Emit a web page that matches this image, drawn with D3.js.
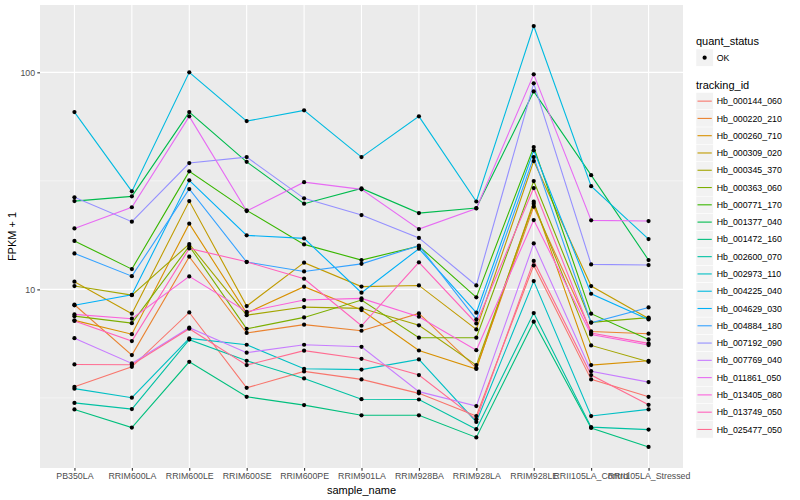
<!DOCTYPE html>
<html>
<head>
<meta charset="utf-8">
<script src="https://cdn.jsdelivr.net/npm/d3@7"></script>
<style>
  html, body { margin: 0; padding: 0; background: #fff; }
  svg text { font-family: "Liberation Sans", Arial, Helvetica, sans-serif; }
</style>
</head>
<body>
<svg id="chart" width="800" height="500"></svg>
<script>
// ---- Data (FPKM + 1 per sample) ----
const samples = ["PB350LA","RRIM600LA","RRIM600LE","RRIM600SE","RRIM600PE","RRIM901LA","RRIM928BA","RRIM928LA","RRIM928LE","RRII105LA_Control","RRII105LA_Stressed"];

const trackingIds = ["Hb_000144_060","Hb_000220_210","Hb_000260_710","Hb_000309_020","Hb_000345_370","Hb_000363_060","Hb_000771_170","Hb_001377_040","Hb_001472_160","Hb_002600_070","Hb_002973_110","Hb_004225_040","Hb_004629_030","Hb_004884_180","Hb_007192_090","Hb_007769_040","Hb_011861_050","Hb_013405_080","Hb_013749_050","Hb_025477_050"];

const Hb_000144_060 = [3.56, 4.40, 7.83, 3.52, 4.19, 3.85, 3.32, 2.61, 12.9, 3.85, 3.20];
const Hb_000220_210 = [8.50, 4.98, 14.15, 6.30, 6.88, 6.45, 7.75, 4.34, 24.05, 6.40, 6.25];
const Hb_000260_710 = [7.20, 6.22, 20.09, 7.78, 10.29, 8.03, 5.23, 4.30, 25.36, 4.48, 4.69];
const Hb_000309_020 = [10.85, 7.73, 25.52, 8.38, 13.28, 10.30, 10.43, 6.54, 39.0, 10.36, 7.35];
const Hb_000345_370 = [10.36, 9.41, 16.17, 7.61, 8.29, 8.18, 6.83, 4.48, 24.83, 5.52, 4.64];
const Hb_000363_060 = [7.53, 6.99, 15.83, 6.58, 7.43, 8.93, 5.99, 5.99, 31.55, 7.05, 7.41];
const Hb_000771_170 = [16.73, 12.40, 34.98, 23.13, 16.12, 13.65, 15.83, 9.19, 45.27, 7.73, 5.88];
const Hb_001377_040 = [25.52, 26.83, 65.6, 38.69, 24.83, 29.2, 22.47, 23.7, 81.7, 33.6, 13.65];
const Hb_001472_160 = [2.80, 2.31, 4.64, 3.20, 2.93, 2.63, 2.63, 2.08, 7.10, 2.30, 1.88];
const Hb_002600_070 = [3.00, 2.81, 5.87, 4.69, 3.89, 3.12, 3.11, 2.27, 7.78, 2.32, 2.26];
const Hb_002973_110 = [3.49, 3.17, 5.95, 5.56, 4.31, 4.27, 4.76, 2.45, 10.92, 2.61, 2.80];
const Hb_004225_040 = [65.6, 28.29, 100.0, 59.6, 66.8, 40.7, 62.7, 25.4, 163.4, 29.9, 17.05];
const Hb_004629_030 = [8.45, 9.45, 31.8, 17.74, 17.18, 9.66, 15.40, 7.81, 43.7, 9.55, 7.27];
const Hb_004884_180 = [14.65, 11.51, 29.0, 13.36, 12.10, 13.11, 15.9, 7.27, 40.7, 7.02, 8.26];
const Hb_007192_090 = [26.55, 20.51, 38.2, 40.7, 26.27, 22.0, 17.27, 10.43, 89.0, 13.04, 12.95];
const Hb_007769_040 = [5.96, 4.56, 6.66, 5.11, 5.56, 5.44, 3.38, 2.90, 16.29, 4.20, 3.74];
const Hb_011861_050 = [19.1, 23.9, 62.7, 22.95, 31.2, 28.9, 18.96, 23.6, 97.9, 20.8, 20.65];
const Hb_013405_080 = [7.67, 7.33, 11.48, 7.89, 8.93, 9.09, 7.48, 5.25, 20.86, 6.20, 5.54];
const Hb_013749_050 = [7.15, 5.78, 15.45, 13.4, 11.2, 6.80, 13.32, 6.97, 29.3, 6.30, 5.64];
const Hb_025477_050 = [4.51, 4.50, 6.59, 4.48, 5.22, 4.79, 4.03, 2.52, 13.53, 4.03, 2.94];

const seriesValues = [Hb_000144_060, Hb_000220_210, Hb_000260_710, Hb_000309_020, Hb_000345_370,
  Hb_000363_060, Hb_000771_170, Hb_001377_040, Hb_001472_160, Hb_002600_070, Hb_002973_110,
  Hb_004225_040, Hb_004629_030, Hb_004884_180, Hb_007192_090, Hb_007769_040, Hb_011861_050,
  Hb_013405_080, Hb_013749_050, Hb_025477_050];

const yTicks = [10, 100];
const yMinor = [Math.sqrt(10), Math.sqrt(1000)];
const quantStatus = ["OK"];

// ---- Colours: ggplot2 hue palette for 20 levels ----
const palette = ["#F8766D","#EA8331","#D89000","#C09B00","#A3A500","#7CAE00","#39B600","#00BB4E","#00BF7D","#00C1A3","#00BFC4","#00BAE0","#00B0F6","#35A2FF","#9590FF","#C77CFF","#E76BF3","#FA62DB","#FF62BC","#FF6C91"];

const series = trackingIds.map((id, i) => ({
  id, color: palette[i],
  values: seriesValues[i].map((v, j) => ({ sample: samples[j], value: v }))
}));

// ---- Layout ----
const svg = d3.select("#chart");
const panel = { left: 40, right: 683, top: 5, bottom: 468 };

const x = d3.scalePoint().domain(samples).range([panel.left, panel.right]).padding(0.6);

const allVals = seriesValues.flat();
const lmin = Math.log10(d3.min(allVals)), lmax = Math.log10(d3.max(allVals));
const ex = (lmax - lmin) * 0.05;
const y = d3.scaleLog().domain([Math.pow(10, lmin - ex), Math.pow(10, lmax + ex)]).range([panel.bottom, panel.top]);

// panel background
svg.append("rect").attr("x", panel.left).attr("y", panel.top)
  .attr("width", panel.right - panel.left).attr("height", panel.bottom - panel.top)
  .attr("fill", "#EBEBEB");

const grid = svg.append("g");
// minor horizontal grid
grid.selectAll(".minor").data(yMinor).enter().append("line")
  .attr("x1", panel.left).attr("x2", panel.right)
  .attr("y1", d => y(d)).attr("y2", d => y(d))
  .attr("stroke", "#FFFFFF").attr("stroke-width", 0.55).attr("opacity", 0.9);
// major horizontal grid
grid.selectAll(".major").data(yTicks).enter().append("line")
  .attr("x1", panel.left).attr("x2", panel.right)
  .attr("y1", d => y(d)).attr("y2", d => y(d))
  .attr("stroke", "#FFFFFF").attr("stroke-width", 1.1);
// vertical grid
grid.selectAll(".vx").data(samples).enter().append("line")
  .attr("x1", d => x(d)).attr("x2", d => x(d))
  .attr("y1", panel.top).attr("y2", panel.bottom)
  .attr("stroke", "#FFFFFF").attr("stroke-width", 1.1);

// lines
const line = d3.line().x(d => x(d.sample)).y(d => y(d.value));
svg.append("g").selectAll("path").data(series).enter().append("path")
  .attr("d", d => line(d.values))
  .attr("fill", "none").attr("stroke", d => d.color).attr("stroke-width", 1.1);

// points
svg.append("g").selectAll("g").data(series).enter().append("g")
  .selectAll("circle").data(d => d.values).enter().append("circle")
  .attr("cx", d => x(d.sample)).attr("cy", d => y(d.value)).attr("r", 2.1)
  .attr("fill", "#000");

// axes
const xAxis = d3.axisBottom(x).tickSize(2.7).tickPadding(2.5);
const gx = svg.append("g").attr("transform", `translate(0,${panel.bottom})`).call(xAxis);
gx.select(".domain").remove();
gx.selectAll("line").attr("stroke", "#333333").attr("stroke-width", 1.1);
gx.selectAll("text").attr("fill", "#4D4D4D").style("font-size", "8.8px");

const yAxis = d3.axisLeft(y).tickValues(yTicks).tickFormat(d3.format("d")).tickSize(2.7).tickPadding(2.2);
const gy = svg.append("g").attr("transform", `translate(${panel.left},0)`).call(yAxis);
gy.select(".domain").remove();
gy.selectAll("line").attr("stroke", "#333333").attr("stroke-width", 1.1);
gy.selectAll("text").attr("fill", "#4D4D4D").style("font-size", "8.8px");

// axis titles
svg.append("text").attr("x", (panel.left + panel.right) / 2).attr("y", 494)
  .attr("text-anchor", "middle").style("font-size", "11px").attr("fill", "#000").text("sample_name");
svg.append("text").attr("transform", `translate(16,${(panel.top + panel.bottom) / 2}) rotate(-90)`)
  .attr("text-anchor", "middle").style("font-size", "11px").attr("fill", "#000").text("FPKM + 1");

// legend
const lg = svg.append("g").attr("transform", "translate(696,0)");
const keyS = 17.28;
lg.append("text").attr("x", 0).attr("y", 44.5).style("font-size", "11px").text("quant_status");
const qk = lg.selectAll(".qk").data(quantStatus).enter().append("g")
  .attr("transform", (d, i) => `translate(0,${49 + i * keyS})`);
qk.append("rect").attr("width", keyS).attr("height", keyS).attr("fill", "#F2F2F2").attr("stroke", "#FFFFFF").attr("stroke-width", 0.5);
qk.append("circle").attr("cx", keyS / 2).attr("cy", keyS / 2).attr("r", 2.1).attr("fill", "#000");
qk.append("text").attr("x", keyS + 3.5).attr("y", keyS / 2 + 3.1).style("font-size", "8.8px").text(d => d);

lg.append("text").attr("x", 0).attr("y", 88.5).style("font-size", "11px").text("tracking_id");
const tk = lg.selectAll(".tk").data(series).enter().append("g")
  .attr("transform", (d, i) => `translate(0,${92.5 + i * keyS})`);
tk.append("rect").attr("width", keyS).attr("height", keyS).attr("fill", "#F2F2F2").attr("stroke", "#FFFFFF").attr("stroke-width", 0.5);
tk.append("line").attr("x1", 1.5).attr("x2", keyS - 1.5).attr("y1", keyS / 2).attr("y2", keyS / 2)
  .attr("stroke", d => d.color).attr("stroke-width", 1.1);
tk.append("text").attr("x", keyS + 3.5).attr("y", keyS / 2 + 3.1).style("font-size", "8.8px").text(d => d.id);
</script>
</body>
</html>
